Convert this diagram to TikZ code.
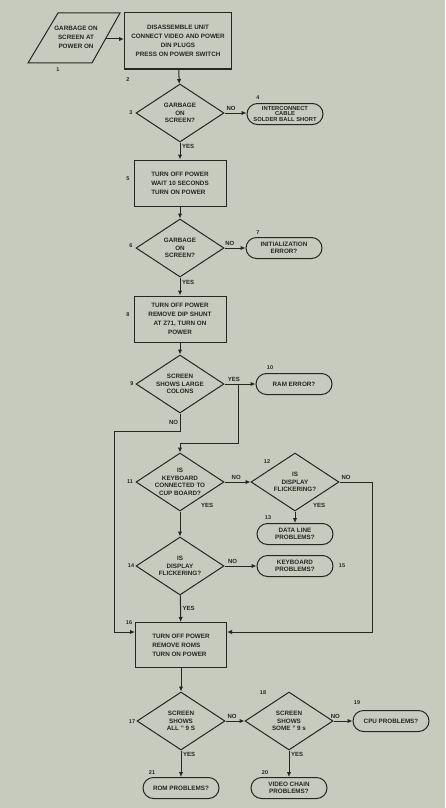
\documentclass[tikz,border=0pt]{standalone}
\usepackage{fontspec}
\setmainfont{Liberation Sans}
\usetikzlibrary{shapes.geometric,shapes.misc,arrows.meta}
\definecolor{paper}{RGB}{198,203,189}
\definecolor{ink}{RGB}{38,38,36}

\begin{document}
\begin{tikzpicture}[x=1pt,y=-1pt,
    every node/.style={font=\bfseries\fontsize{6.3}{9}\selectfont, text=ink},
    ln/.style={draw=ink, line width=1pt},
    arr/.style={ln, -{Latex[length=5pt,width=4.5pt]}},
    proc/.style={ln, rectangle, align=center, inner sep=1pt},
    dia/.style={ln, diamond, minimum width=88pt, minimum height=58pt, inner sep=0pt},
    dtxt/.style={align=center, font=\bfseries\fontsize{6.3}{7.5}\selectfont},
    term/.style={ln, rounded rectangle, minimum width=78pt, minimum height=21pt, inner sep=1pt, align=center, font=\bfseries\fontsize{6.3}{7.5}\selectfont},
    lbl/.style={font=\bfseries\fontsize{6}{7}\selectfont, inner sep=1.5pt},
    num/.style={font=\bfseries\fontsize{5.5}{6}\selectfont, inner sep=0pt}]
        \fill[paper] (0,0) rectangle (445,808);
        \useasboundingbox (0,0) rectangle (445,808);

        % input parallelogram
        \draw[ln] (58,13) -- (120,13) -- (92,63) -- (28,63) -- cycle;
        \node[align=center] (p1) at (76,37) {GARBAGE ON\\SCREEN AT\\POWER ON};
        \coordinate (p1e) at (106,39);

        \node[proc, minimum width=107pt, minimum height=56pt] (b2) at (178,41) {DISASSEMBLE UNIT\\CONNECT VIDEO AND POWER\\DIN PLUGS\\PRESS ON POWER SWITCH};
        \node[dia, label={[dtxt]center:{GARBAGE\\ON\\SCREEN?}}] (d3) at (180,113) {};
        \node[term, font=\bfseries\fontsize{5.8}{5.9}\selectfont] (t4) at (285,114) {INTERCONNECT\\CABLE\\SOLDER BALL SHORT};
        \node[proc, align=left, minimum width=92pt, minimum height=46pt] (b5) at (180,183) {TURN OFF POWER\\WAIT 10 SECONDS\\TURN ON POWER};
        \node[dia, label={[dtxt]center:{GARBAGE\\ON\\SCREEN?}}] (d6) at (180,248) {};
        \node[term] (t7) at (284,248) {INITIALIZATION\\ERROR?};
        \node[proc, minimum width=92pt, minimum height=46pt] (b8) at (180,319) {TURN OFF POWER\\REMOVE DIP SHUNT\\AT Z71, TURN ON\\POWER};
        \node[dia, label={[dtxt]center:{SCREEN\\SHOWS LARGE\\COLONS}}] (d9) at (180,384) {};
        \node[term] (t10) at (294,384) {RAM ERROR?};
        \node[dia, label={[dtxt]center:{IS\\KEYBOARD\\CONNECTED TO\\CUP BOARD?}}] (d11) at (180,482) {};
        \node[dia, label={[dtxt]center:{IS\\DISPLAY\\FLICKERING?}}] (d12) at (295,482) {};
        \node[term] (t13) at (295,534) {DATA LINE\\PROBLEMS?};
        \node[dia, label={[dtxt]center:{IS\\DISPLAY\\FLICKERING?}}] (d14) at (180,566) {};
        \node[term] (t15) at (295,566) {KEYBOARD\\PROBLEMS?};
        \node[proc, align=left, minimum width=91pt, minimum height=45pt] (b16) at (181,645) {TURN OFF POWER\\REMOVE ROMS\\TURN ON POWER};
        \node[dia, label={[dtxt]center:{SCREEN\\SHOWS\\ALL '' 9 S}}] (d17) at (181,721) {};
        \node[dia, label={[dtxt]center:{SCREEN\\SHOWS\\SOME '' 9 s}}] (d18) at (289,721) {};
        \node[term] (t19) at (391,721) {CPU PROBLEMS?};
        \node[term] (t20) at (289,788) {VIDEO CHAIN\\PROBLEMS?};
        \node[term] (t21) at (181,788) {ROM PROBLEMS?};

        \foreach \k/\x/\y in {1/58/70, 2/128/80, 3/131/113, 4/258/98, 5/128/179, 6/131/246, 7/258/233,
            8/128/315, 9/132/384, 10/270/368, 11/130/482, 12/267/462, 13/268/518, 14/131/566,
            15/342/566, 16/129/623, 17/132/722, 18/263/693, 19/357/703, 20/265/773, 21/152/773}{
            \node[num] (n\k) at (\x,\y) {\k};
        }

        \coordinate (j9) at (238,384);
        \coordinate (k9) at (238,443);
        \coordinate (m9) at (114,431);
        \coordinate (r12) at (372,632);

        \draw[arr] (p1e) -- (p1e -| b2.west);
        \draw[arr] (b2) -- (d3);
        \draw[arr] (d3) -- node[lbl, above, pos=0.3] {NO} (d3 -| t4.west);
        \draw[arr] (d3) -- node[lbl, right, pos=0.25] {YES} (b5);
        \draw[arr] (b5) -- (d6);
        \draw[arr] (d6) -- node[lbl, above, pos=0.25] {NO} (t7);
        \draw[arr] (d6) -- node[lbl, right, pos=0.3] {YES} (b8);
        \draw[arr] (b8) -- (d9);
        \draw[arr] (d9) -- node[lbl, above, pos=0.3] {YES} (t10);
        \draw[arr] (j9) -- (k9) -| (d11);
        \draw[arr] (d9) |- node[lbl, left, pos=0.25] {NO} (m9) |- ([yshift=13pt]b16.west);
        \draw[arr] (d11) -- node[lbl, above, pos=0.45] {NO} (d12);
        \draw[arr] (d12) -| node[lbl, above, pos=0.1] {NO} (r12) -- ([yshift=13pt]b16.east);
        \draw[arr] (d12) -- node[lbl, pos=0, xshift=24pt, yshift=6pt] {YES} (t13);
        \draw[arr] (d11) -- node[lbl, pos=0, xshift=27pt, yshift=6pt] {YES} (d14);
        \draw[arr] (d14) -- node[lbl, above, pos=0.25] {NO} (t15);
        \draw[arr] (d14) -- node[lbl, right, pos=0.5] {YES} (b16);
        \draw[arr] (b16) -- (d17);
        \draw[arr] (d17) -- node[lbl, above, pos=0.35] {NO} (d18);
        \draw[arr] (d18) -- node[lbl, above, pos=0.1] {NO} (t19);
        \draw[arr] (d17) -- node[lbl, right, pos=0.15] {YES} (t21);
        \draw[arr] (d18) -- node[lbl, right, pos=0.15] {YES} (t20);
    \end{tikzpicture}
\end{document}
